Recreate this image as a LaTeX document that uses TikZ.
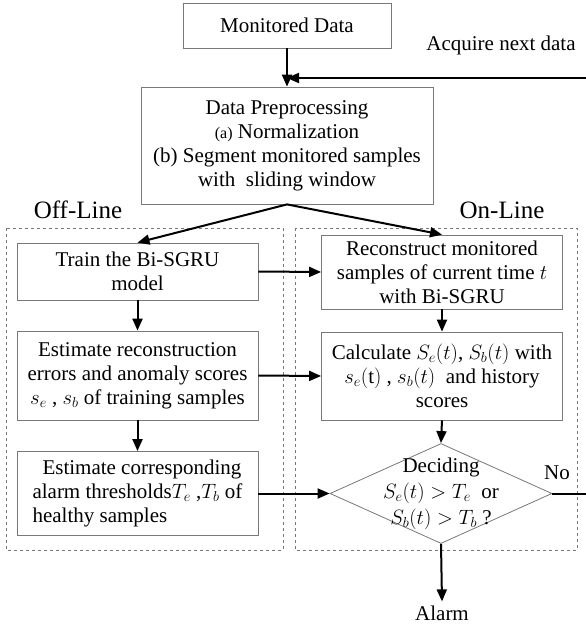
\documentclass[tikz,border=0pt]{standalone}
\usepackage{amsmath,amssymb}
\usepackage{fontspec}
\setmainfont{Liberation Serif}
\usetikzlibrary{arrows,calc,shapes}
\usetikzlibrary{arrows.meta}
\usepackage{xcolor}
\definecolor{boxgray}{RGB}{120,120,120}

\begin{document}
\begin{tikzpicture}
        [   x = 1pt
        ,   y = -1pt
        ,   every node/.style =
            {   font = \fontsize{21}{24}\selectfont
            ,   inner sep = 0pt
            }
        ,   box/.style =
            {   draw = boxgray
            ,   line width = 0.8pt
            ,   align = center
            ,   minimum width = 241pt
            ,   minimum height = #1
            }
        ,   arr/.style =
            {   -{Triangle[length=12pt,width=10pt]}
            ,   line width = 2pt
            }
        ,   frame/.style =
            {   draw = boxgray
            ,   dashed
            ,   line width = 0.8pt
            }
        ,   label/.style =
            {   inner sep = 4pt
            }
        ]
        \useasboundingbox (0,0) rectangle (586,629);

        % off-line and on-line parts
        \draw[frame] (6,228) rectangle (283,550);
        \draw[frame] (295,228) rectangle (577,550);
        \node[label, font=\fontsize{25}{28}\selectfont] (offline) at (78,210) {Off-Line};
        \node[label, font=\fontsize{25}{28}\selectfont] (online) at (502,210) {On-Line};

        \node[box=45pt, minimum width=208pt] (mon) at (287,25.5) {Monitored Data};
        \node[box=117pt, minimum width=292pt] (pre) at (287,145.5)
            {Data Preprocessing\\
             {\fontsize{16}{24}\selectfont (a)} Normalization\\
             (b) Segment monitored samples\\
             with \ sliding window};

        \node[box=57pt] (train) at (137.5,271.5) {Train the Bi-SGRU\\model};
        \node[box=89pt] (estrec) at (137.5,375.5)
            {Estimate reconstruction\\
             errors and anomaly scores\\
             $s_e$ , $s_b$ of training samples};
        \node[box=84pt, align=left] (estcor) at (137.5,493.5)
            {\hspace*{10pt}Estimate corresponding\\
             alarm thresholds$T_e$ ,$T_b$ of\\
             healthy samples};

        \node[box=74pt] (recon) at (442,272)
            {Reconstruct monitored\\
             samples of current time $t$\\
             with Bi-SGRU};
        \node[box=88pt] (calc) at (442,376)
            {Calculate $S_e(t)$, $S_b(t)$ with\\
             $s_e(\mathrm{t})$ , $s_b(t)$ \ and history\\
             scores};
        \node[draw=boxgray, line width=0.8pt, shape=diamond,
              minimum width=222pt, minimum height=100pt] (dec) at (441,493.5) {};
        \node[align=center, font=\fontsize{21}{26}\selectfont] (dectext) at (dec)
            {Deciding\\
             $S_e(t) > T_e$ \ or\\
             $S_b(t) > T_b$ ?};

        \node[label] (acqtext) at (501,45) {Acquire next data};
        \node[label] (notext) at (557,473) {No};
        \node[label] (alarm) at (442,613) {Alarm};
        \coordinate (acq) at (586,78);
        \coordinate (noend) at (586,493.5);

        % connectors
        \draw[arr] (mon.south) -- (pre.north);
        \draw[arr] (acq) -- (acq -| mon.south);
        \draw[arr] (pre.south) -- (train.north);
        \draw[arr] (pre.south) -- (recon.north);
        \draw[arr] (train.south) -- (estrec.north);
        \draw[arr] (estrec.south) -- (estcor.north);
        \draw[arr] (recon.south) -- (calc.north);
        \draw[arr] (calc.south) -- (dec.north);
        \draw[arr] (train.east) -- (recon.west);
        \draw[arr] (estrec.east) -- (calc.west);
        \draw[arr] (estcor.east) -- (dec.west);
        \draw[line width=2pt] (dec.east) -- (noend);
        \draw[arr] (dec.south) -- (alarm.north);
\end{tikzpicture}
\end{document}
